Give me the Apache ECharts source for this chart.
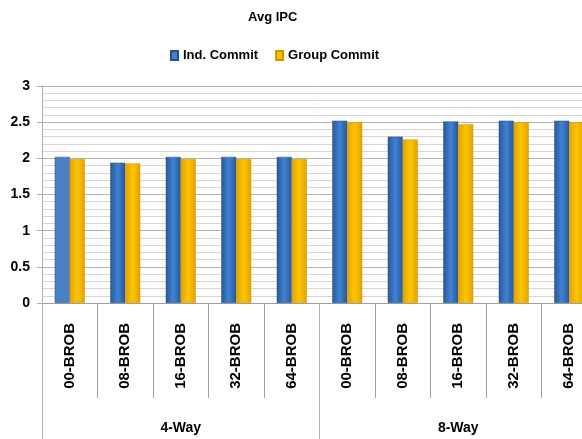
<!DOCTYPE html>
<html>
<head>
<meta charset="utf-8">
<script src="https://cdn.jsdelivr.net/npm/echarts@6/dist/echarts.min.js"></script>
<style>
  html, body { margin: 0; padding: 0; background: #fff; overflow: hidden; }
  /* chart is a bit wider than the window: the last category is cut off like the original */
  #chart { width: 597px; height: 439px; }
</style>
</head>
<body>
<div id="chart"></div>
<script>
// category labels (inner + outer level)
const robLabels = ['00-BROB', '08-BROB', '16-BROB', '32-BROB', '64-BROB',
                   '00-BROB', '08-BROB', '16-BROB', '32-BROB', '64-BROB']
const wayLabels = ['4-Way', '8-Way']

// avg IPC values
const indCommit = [2.02, 1.94, 2.02, 2.02, 2.02, 2.52, 2.30, 2.51, 2.52, 2.52]
const groupCommit = [1.99, 1.93, 1.99, 1.99, 1.99, 2.50, 2.26, 2.47, 2.50, 2.50]

const yTicks = [0, 0.5, 1, 1.5, 2, 2.5, 3]

const font = '"Liberation Sans", Arial, sans-serif'

const blueGrad = new echarts.graphic.LinearGradient(0, 0, 1, 0, [
  { offset: 0, color: '#2b5797' },
  { offset: 0.5, color: '#3f83d3' },
  { offset: 1, color: '#2b5797' }
])
const yellowGrad = new echarts.graphic.LinearGradient(0, 0, 1, 0, [
  { offset: 0, color: '#e0a400' },
  { offset: 0.5, color: '#ffc400' },
  { offset: 1, color: '#e0a400' }
])

const chart = echarts.init(document.getElementById('chart'))

chart.setOption({
  animation: false,
  backgroundColor: '#fff',
  title: {
    text: 'Avg IPC',
    left: 243,
    top: 6,
    textStyle: { fontFamily: font, fontSize: 13, fontWeight: 'bold', color: '#000' }
  },
  legend: {
    left: 165,
    top: 44,
    icon: 'rect',
    itemWidth: 7,
    itemHeight: 9,
    itemGap: 17,
    textStyle: { fontFamily: font, fontSize: 13, fontWeight: 'bold', color: '#000' },
    data: [
      { name: 'Ind. Commit', itemStyle: { color: '#3f7fd0' } },
      { name: 'Group Commit', itemStyle: { color: '#ffc000' } }
    ]
  },
  grid: { left: 42, right: 0, top: 86, bottom: 136 },
  xAxis: [
    {
      type: 'category',
      data: robLabels,
      axisLine: { show: true, lineStyle: { color: '#a0a0a0' } },
      axisTick: { show: true, interval: 0, length: 95, lineStyle: { color: '#a0a0a0' } },
      axisLabel: {
        interval: 0, rotate: 90, margin: 20,
        fontFamily: font, fontSize: 15, fontWeight: 'bold', color: '#000'
      }
    },
    {
      type: 'category',
      data: wayLabels,
      position: 'bottom',
      axisLine: { show: false },
      axisTick: { show: true, interval: 0, length: 136, lineStyle: { color: '#b0b0b0' } },
      axisLabel: {
        interval: 0, margin: 118,
        fontFamily: font, fontSize: 14, fontWeight: 'bold', color: '#000'
      }
    }
  ],
  yAxis: {
    type: 'value',
    min: yTicks[0],
    max: yTicks[yTicks.length - 1],
    interval: 0.5,
    axisLine: { show: true, lineStyle: { color: '#b0b0b0' } },
    axisTick: { show: true, length: 5, lineStyle: { color: '#b0b0b0' } },
    axisLabel: { margin: 12, fontFamily: font, fontSize: 14, fontWeight: 'bold', color: '#000' },
    splitLine: { show: true, lineStyle: { color: '#b4b4b4' } },
    minorTick: { show: false, splitNumber: 5 },
    minorSplitLine: { show: true, lineStyle: { color: '#d6d6d6' } }
  },
  series: [
    {
      name: 'Ind. Commit',
      type: 'bar',
      barWidth: 15,
      barGap: '0%',
      data: indCommit.map((v, i) => i === 0
        ? { value: v, itemStyle: { color: '#4a80c4' } }
        : v),
      itemStyle: { color: blueGrad, borderColor: '#2a4f85', borderWidth: 0.5 }
    },
    {
      name: 'Group Commit',
      type: 'bar',
      barWidth: 15,
      data: groupCommit,
      itemStyle: { color: yellowGrad, borderColor: '#c89600', borderWidth: 0.5 }
    }
  ]
})
</script>
</body>
</html>
